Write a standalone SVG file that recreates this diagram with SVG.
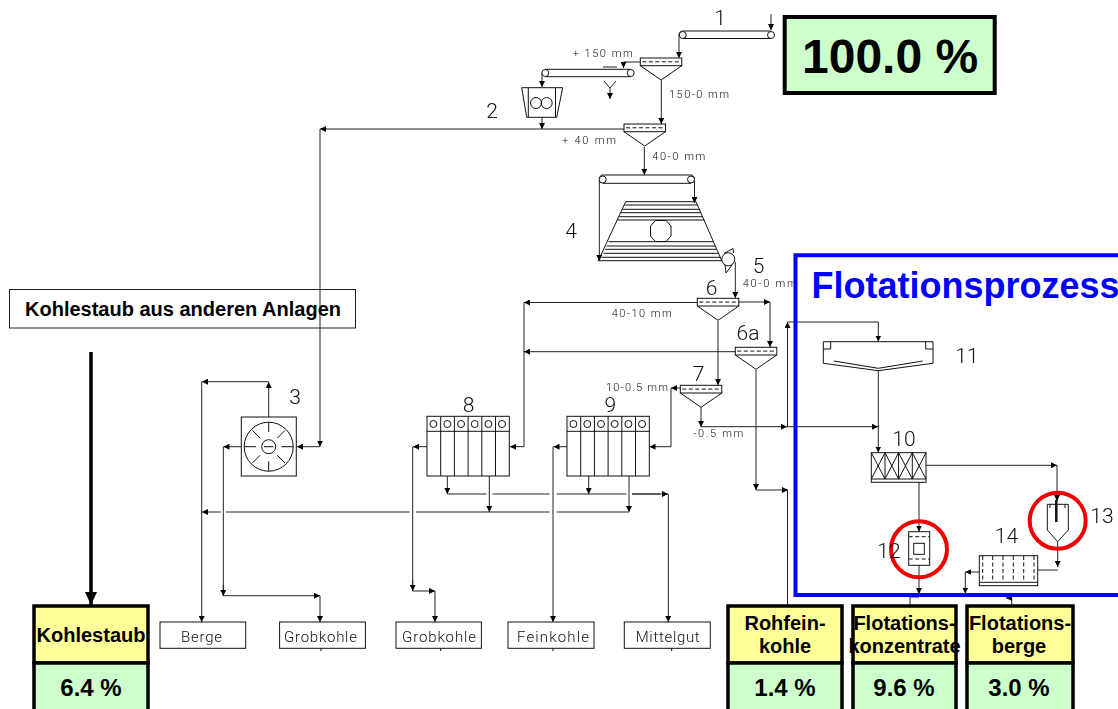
<svg xmlns="http://www.w3.org/2000/svg" width="1118" height="709" viewBox="0 0 1118 709">
<style>
text{font-family:"Liberation Sans",Arial,sans-serif;fill:#000}
.c{fill:none;stroke:#222;stroke-width:1;marker-end:url(#a)}
.l{fill:none;stroke:#222;stroke-width:1}
.s{fill:none;stroke:#111;stroke-width:1}
.w{fill:#fff;stroke:#111;stroke-width:1}
.d{fill:none;stroke:#111;stroke-width:1;stroke-dasharray:4 2.5}
.cad{font-family:Roboto,"Liberation Sans",sans-serif;font-weight:300;fill:#111;filter:url(#gray)}
.n{font-size:21px}
.m{font-size:11px}
.b{font-size:15px}
.rb{fill:#ffff99;stroke:#000;stroke-width:3.5}
.rg{fill:#ccffcc;stroke:#000;stroke-width:3.5}
.h{font-weight:bold;font-size:20px;text-anchor:middle}
.p{font-weight:bold;font-size:24px;text-anchor:middle}
.red{fill:none;stroke:#f00000;stroke-width:4}
</style>
<defs>
<filter id="gray" x="-10%" y="-30%" width="120%" height="160%" color-interpolation-filters="sRGB"><feOffset dx="0" dy="0"/></filter>
<marker id="a" markerUnits="userSpaceOnUse" markerWidth="7" markerHeight="6" refX="6" refY="3" orient="auto"><path d="M0 0L6 3L0 6Z" fill="#000"/></marker>
<marker id="big" markerUnits="userSpaceOnUse" markerWidth="14" markerHeight="14" refX="13" refY="7" orient="auto"><path d="M0 1L13 7L0 13Z" fill="#000"/></marker>
<g id="screen"><rect class="s" x="0" y="0" width="41.5" height="7.7"/><path class="d" d="M2 3.8H40"/><path class="s" d="M0 7.7L20.75 22L41.5 7.7"/></g>
<g id="rows"><rect class="s" width="82.3" height="59.7"/><path class="s" d="M0 15H82.3M13.7 0V59.7M27.4 0V59.7M41.1 0V59.7M54.8 0V59.7M68.5 0V59.7"/><circle class="s" cx="6.4" cy="7.7" r="3.5"/><circle class="s" cx="20.3" cy="7.7" r="3.5"/><circle class="s" cx="34" cy="7.7" r="3.5"/><circle class="s" cx="47.7" cy="7.7" r="3.5"/><circle class="s" cx="61.4" cy="7.7" r="3.5"/><circle class="s" cx="75" cy="7.7" r="3.5"/></g>
</defs>

<g id="kohlestaub-source">
<rect x="9.5" y="289.5" width="346" height="38.5" fill="#fff" stroke="#222"/>
<text x="25" y="315.5" font-size="20" font-weight="bold">Kohlestaub aus anderen Anlagen</text>
</g>

<g id="connectors">
<path class="c" d="M771 14V30"/>
<path class="c" d="M679 35V58"/>
<path class="c" d="M640 62H623.5V68"/>
<path class="c" d="M542 73V87"/>
<path class="c" d="M610 88V99"/>
<path class="l" d="M604 81L610 88L616 81"/>
<path class="l" d="M603 67H617"/>
<path class="c" d="M661.3 80V124"/>
<path class="c" d="M542 117V129"/>
<path class="c" d="M624 129H320"/>
<path class="c" d="M320 129V446.7"/>
<path class="c" d="M320 446.7H297"/>
<path class="c" d="M644.3 147V175"/>
<path class="c" d="M599.3 180V261"/>
<path class="c" d="M694.5 180V203"/>
<path class="c" d="M735.3 262V298"/>
<path class="c" d="M697.3 302.5H524"/>
<path class="l" d="M524 302.5V446.7"/>
<path class="c" d="M524 446.7H510"/>
<path class="c" d="M738.7 302H770"/>
<path class="c" d="M770 302V347"/>
<path class="c" d="M735.3 351.7H524"/>
<path class="c" d="M718 320.7V385"/>
<path class="c" d="M680.3 388H671"/>
<path class="l" d="M671 388V446.7"/>
<path class="c" d="M671 446.7H649.5"/>
<path class="c" d="M701 407V427"/>
<path class="c" d="M701 426.7H787"/>
<path class="c" d="M787 426.7H878"/>
<path class="c" d="M787.5 426.7V322"/>
<path class="l" d="M787.5 322H878.3"/>
<path class="c" d="M878.3 322V341.5"/>
<path class="c" d="M756 370V490"/>
<path class="c" d="M756 490H788"/>
<path class="l" d="M787.5 490V606"/>
<path class="c" d="M878.3 370.7V452.5"/>
<path class="c" d="M926 465.3H1057"/>
<path class="c" d="M1057 465.3V501"/>
<path class="c" d="M919 482V531.5"/>
<path class="c" d="M919 565V594"/>
<path class="l" d="M919 597H910V605"/>
<path class="c" d="M1057.7 541.7V567"/>
<path class="l" d="M1057.7 570H1038"/>
<path class="c" d="M979 572H965.3"/>
<path class="c" d="M965.3 572V593.5"/>
<path class="c" d="M1011.7 605V598H1006"/>
<path class="c" d="M268.7 417V382"/>
<path class="c" d="M268.7 381.7H202"/>
<path class="c" d="M201.7 381.7V622"/>
<path class="c" d="M241.3 446.7H223.5"/>
<path class="l" d="M223.3 446.7V596"/>
<path class="c" d="M223.3 595.7H320"/>
<path class="c" d="M320 595.7V622"/>
<path class="c" d="M223.3 585V596"/>
<path class="c" d="M427 446.7H413"/>
<path class="l" d="M412.7 446.7V591"/>
<path class="c" d="M412.7 580V591"/>
<path class="c" d="M412.7 591H435"/>
<path class="c" d="M435 591V622"/>
<path class="c" d="M567 446.7H553.5"/>
<path class="c" d="M553 446.7V622"/>
<path class="c" d="M447.3 476V494"/>
<path class="c" d="M588.7 476V494"/>
<path class="c" d="M489.3 476V512"/>
<path class="c" d="M629 476V512"/>
<path class="l" d="M447.3 494H486.5M492.5 494H549.5M556.7 494H626.5M632 494H660"/>
<path class="c" d="M632 494H668"/>
<path class="c" d="M668.3 494V622"/>
<path class="l" d="M629 512H556.7M549.7 512H416M409.5 512H226"/>
<path class="c" d="M221 512H202"/>
<path class="c" d="M91 352V605" style="stroke:#000;stroke-width:3.5;marker-end:url(#big)"/>
</g>

<g id="conveyor-1">
<path class="s" d="M682.7 31H771M682.7 38.5H771"/><path class="s" d="M682.7 31A3.7 3.7 0 0 0 679 35"/>
<circle class="w" cx="682.7" cy="35" r="3.5"/><circle class="w" cx="771" cy="35" r="3.5"/>
<text class="cad n" x="720" y="25" text-anchor="middle">1</text>
</g>
<g id="screen-1"><use href="#screen" x="640.3" y="58"/>
<text class="cad m" x="572.7" y="57" textLength="60">+ 150 mm</text>
<text class="cad m" x="669" y="98" textLength="60">150-0 mm</text></g>
<g id="conveyor-y">
<path class="s" d="M545.3 69.3H630.7M545.3 76.7H630.7"/>
<circle class="w" cx="545.3" cy="73" r="3.5"/><circle class="w" cx="630.7" cy="73" r="3.5"/>
</g>
<g id="crusher">
<path class="w" d="M521.7 87.7H562.7L556.7 117.3H526.7Z"/><path class="s" d="M528.3 87.7V117.3M555.5 87.7V117.3"/>
<circle class="s" cx="536" cy="103" r="5.5"/><circle class="s" cx="546.7" cy="103" r="5.5"/>
</g>
<g id="screen-2"><use href="#screen" x="624" y="124"/>
<text class="cad n" x="492" y="118" text-anchor="middle">2</text>
<text class="cad m" x="562" y="144" textLength="54">+ 40 mm</text>
<text class="cad m" x="652.3" y="160" textLength="53">40-0 mm</text></g>
<g id="unit-4">
<path class="s" d="M602.7 175H691M602.7 183.3H691M599.3 179.5A3.4 4 0 0 1 602.7 175M694.5 179.5A3.4 4 0 0 0 691 175"/>
<circle class="w" cx="602.7" cy="179.5" r="3.5"/><circle class="w" cx="691" cy="179.5" r="3.5"/>
<path class="s" d="M625.7 201.7H696L721.7 260.7H598.3Z"/>
<path class="s" d="M624.3 205H697.4M622.4 209.3H699.4M620.9 212.7H700.9M619.2 216.7H702.6M617.7 220H704.2M608.5 241.7H713.4M606.6 246H715.3M605.1 249.3H716.8M603.4 253.3H718.5M601.6 257.3H720.2"/>
<path class="s" d="M655.5 220.5H666L671 226V236L666 241.5H655.5L650.5 236V226Z"/>
<circle class="w" cx="728.3" cy="259.3" r="6.5"/>
<path class="s" d="M724 253.5L733 248.5L733.5 253M725 265L726 273L732 265"/>
<text class="cad n" x="571" y="238" text-anchor="middle">4</text>
<text class="cad n" x="758.5" y="273" text-anchor="middle">5</text>
<text class="cad m" x="742.7" y="287" textLength="54">40-0 mm</text>
</g>
<g id="screen-6"><use href="#screen" x="697.3" y="298.3"/>
<text class="cad n" x="711.7" y="295" text-anchor="middle">6</text>
<text class="cad m" x="611.7" y="317" textLength="60">40-10 mm</text></g>
<g id="screen-6a"><use href="#screen" x="735.3" y="347.3"/>
<text class="cad n" x="748" y="340" text-anchor="middle">6a</text></g>
<g id="screen-7"><use href="#screen" x="680.3" y="385.3"/>
<text class="cad n" x="698.7" y="381" text-anchor="middle">7</text>
<text class="cad m" x="606" y="391" textLength="62">10-0.5 mm</text>
<text class="cad m" x="693.3" y="437" textLength="50">-0.5 mm</text></g>
<g id="unit-8"><use href="#rows" x="427" y="416.3"/><text class="cad n" x="468.7" y="412" text-anchor="middle">8</text></g>
<g id="unit-9"><use href="#rows" x="567" y="416.3"/><text class="cad n" x="610.3" y="412" text-anchor="middle">9</text></g>
<g id="unit-3">
<rect class="s" x="241.3" y="417" width="55" height="59"/>
<circle class="s" cx="268.7" cy="446.7" r="24.5"/><circle class="s" cx="268.7" cy="446.7" r="7"/>
<path class="s" d="M244.2 446.7H256M281.4 446.7H293.2M268.7 422.2V432M268.7 461.4V471.2M252.4 430.4L260.1 438.1M285 430.4L277.3 438.1M252.4 463L260.1 455.3M285 463L277.3 455.3M264 446.7H273.4"/>
<text class="cad n" x="295" y="404" text-anchor="middle">3</text>
</g>
<g id="thickener-11">
<path class="s" d="M823.3 341.7H933V363.3L878.3 370.7L823.3 363.3Z"/>
<path class="s" d="M834 361L878.3 368.3L922.7 361M823.3 349H830.7V341.7M933 349H925.7V341.7"/>
<text class="cad n" x="967" y="363" text-anchor="middle">11</text>
</g>
<g id="unit-10">
<rect class="s" x="871.3" y="452.7" width="54.7" height="29.6"/>
<path class="s" d="M871.3 479H926M885 452.7V479M898.6 452.7V479M912.3 452.7V479M871.3 452.7L885 479M885 452.7L871.3 479M885 452.7L898.6 479M898.6 452.7L885 479M898.6 452.7L912.3 479M912.3 452.7L898.6 479M912.3 452.7L926 479M926 452.7L912.3 479"/>
<text class="cad n" x="904" y="446" text-anchor="middle">10</text>
</g>
<g id="unit-12">
<rect class="s" x="908.7" y="531.7" width="21" height="33.6"/>
<path class="d" d="M908.7 536.7H929.7M908.7 559H929.7"/><rect class="s" x="913.7" y="543.3" width="10.6" height="11"/>
<circle class="red" cx="919" cy="549.3" r="28"/>
<text class="cad n" x="889" y="558" text-anchor="middle">12</text>
</g>
<g id="unit-13">
<path class="s" d="M1047.3 504.3H1068.3V530L1057.7 541.7L1047.3 530Z"/>
<path class="s" d="M1056.3 500V522" style="stroke-width:2.5"/><path class="s" d="M1050 504.3V508M1065 504.3V508"/>
<circle class="red" cx="1057.7" cy="520.7" r="28"/>
<text class="cad n" x="1102" y="523" text-anchor="middle">13</text>
</g>
<g id="unit-14">
<rect class="s" x="979.3" y="555.7" width="58.4" height="30"/>
<path class="s" d="M979.3 582.3H1037.7"/><path class="d" d="M982.7 556V582M992.7 556V582M1003 556V582M1013.3 556V582M1023.7 556V582M1034 556V582"/>
<text class="cad n" x="1006.5" y="543" text-anchor="middle">14</text>
</g>
<g id="flotationsprozess">
<path d="M1122 255.3H795.5V595H1122" fill="none" stroke="#0000ff" stroke-width="4"/>
<text x="811.5" y="298" font-size="36" font-weight="bold" style="fill:#0000ff">Flotationsprozess</text>
</g>
<g id="percent-total">
<rect x="784.7" y="17" width="210" height="76" fill="#ccffcc" stroke="#000" stroke-width="4"/>
<text x="802" y="73" font-size="48" font-weight="bold">100.0 %</text>
</g>
<g id="berge"><rect class="w" x="160" y="622" width="85.7" height="26.3"/><text class="cad b" x="181" y="642" textLength="41">Berge</text></g>
<g id="grobkohle-1"><rect class="w" x="279.6" y="622" width="85.8" height="26.3"/><path class="s" d="M321 648V651"/><text class="cad b" x="284" y="642" textLength="73">Grobkohle</text></g>
<g id="grobkohle-2"><rect class="w" x="396" y="622" width="85.4" height="26.3"/><path class="s" d="M440.7 648V651"/><text class="cad b" x="402" y="642" textLength="74">Grobkohle</text></g>
<g id="feinkohle"><rect class="w" x="508" y="622" width="86" height="26.3"/><path class="s" d="M553 648V651"/><text class="cad b" x="517" y="642" textLength="72">Feinkohle</text></g>
<g id="mittelgut"><rect class="w" x="624.3" y="622" width="86" height="26.3"/><path class="s" d="M671.7 648V651"/><text class="cad b" x="635.7" y="642" textLength="64">Mittelgut</text></g>
<g id="result-kohlestaub">
<rect class="rb" x="34" y="606" width="114" height="57"/><rect class="rg" x="34" y="663" width="114" height="52"/>
<text class="h" x="91" y="642">Kohlestaub</text><text class="p" x="91" y="696">6.4 %</text>
</g>
<g id="result-rohfeinkohle">
<rect class="rb" x="728" y="606" width="114" height="57"/><rect class="rg" x="728" y="663" width="114" height="52"/>
<text class="h" x="785" y="630">Rohfein-</text><text class="h" x="785" y="653">kohle</text><text class="p" x="785" y="696">1.4 %</text>
</g>
<g id="result-konzentrate">
<rect class="rb" x="853" y="606" width="103" height="57"/><rect class="rg" x="853" y="663" width="103" height="52"/>
<text class="h" x="904.5" y="630">Flotations-</text><text class="h" x="904.5" y="653">konzentrate</text><text class="p" x="904" y="696">9.6 %</text>
</g>
<g id="result-berge">
<rect class="rb" x="967" y="606" width="106" height="57"/><rect class="rg" x="967" y="663" width="106" height="52"/>
<text class="h" x="1020" y="630">Flotations-</text><text class="h" x="1019" y="653">berge</text><text class="p" x="1019" y="696">3.0 %</text>
</g>
</svg>
